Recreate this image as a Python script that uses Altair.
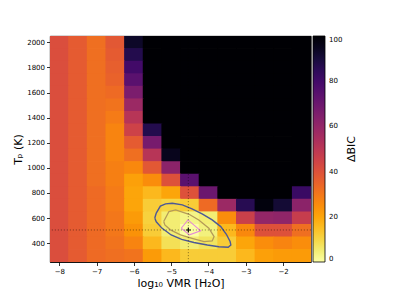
import altair as alt
import pandas as pd

# ---------------- data ----------------
log_vmr = [-8.0, -7.5, -7.0, -6.5, -6.0, -5.5, -5.0, -4.5, -4.0, -3.5, -3.0, -2.5, -2.0, -1.5]
t_p = [2000, 1900, 1800, 1700, 1600, 1500, 1400, 1300, 1200, 1100, 1000, 900, 800, 700, 600, 500, 400, 300]
OFF = 150  # above colour range -> drawn black

# delta BIC per cell, rows top (2000 K) to bottom (300 K), columns as log_vmr
dbic_rows = [
    [41, 37, 32, 38, 93, OFF, OFF, OFF, OFF, OFF, OFF, OFF, OFF, OFF],
    [41, 37, 32, 37, 87, OFF, OFF, OFF, OFF, OFF, OFF, OFF, OFF, OFF],
    [41, 37, 32, 36, 80, OFF, OFF, OFF, OFF, OFF, OFF, OFF, OFF, OFF],
    [41, 37, 32, 35, 74, OFF, OFF, OFF, OFF, OFF, OFF, OFF, OFF, OFF],
    [41, 37, 32, 33, 66, OFF, OFF, OFF, OFF, OFF, OFF, OFF, OFF, OFF],
    [41, 37, 32, 31, 58, OFF, OFF, OFF, OFF, OFF, OFF, OFF, OFF, OFF],
    [41, 37, 32, 29, 51, OFF, OFF, OFF, OFF, OFF, OFF, OFF, OFF, OFF],
    [41, 37, 32, 27, 45, 87, OFF, OFF, OFF, OFF, OFF, OFF, OFF, OFF],
    [41, 37, 32, 27, 37, 67, OFF, OFF, OFF, OFF, OFF, OFF, OFF, OFF],
    [41, 37, 32, 27, 32, 51, 95, OFF, OFF, OFF, OFF, OFF, OFF, OFF],
    [41, 37, 32, 28, 26, 38, 62, OFF, OFF, OFF, OFF, OFF, OFF, OFF],
    [41, 37, 32, 28, 21, 25, 40, 74, OFF, OFF, OFF, OFF, OFF, OFF],
    [41, 37, 33, 29, 20, 16, 20, 40, 70, OFF, OFF, OFF, OFF, 82],
    [41, 37, 33, 29, 20, 12, 10, 12, 33, 58, 86, 98, 91, 62],
    [41, 37, 33, 30, 22, 11, 5, 3, 5, 25, 46, 60, 61, 47],
    [41, 37, 33, 30, 24, 12, 5, 0, 4, 16, 26, 40, 40, 32],
    [41, 37, 33, 31, 27, 16, 8, 5, 7, 12, 20, 25, 27, 25],
    [41, 37, 33, 32, 31, 22, 16, 12, 12, 12, 16, 21, 22, 22],
]

# contour traces (outer, middle, inner)
outer_x = [-5.44, -5.40, -5.29, -5.15, -4.97, -4.70, -4.44, -4.17, -3.90, -3.67, -3.52, -3.42,
           -3.40, -3.47, -3.72, -4.03, -4.39, -4.72, -5.00, -5.25, -5.40, -5.44]
outer_t = [600, 640, 695, 713, 718, 705, 673, 633, 585, 532, 471, 413,
           386, 368, 372, 385, 405, 430, 465, 520, 570, 600]
middle_x = [-5.20, -5.06, -4.88, -4.52, -4.26, -3.99, -3.85, -3.90, -4.12, -4.44, -4.75, -5.02, -5.17, -5.20]
middle_t = [572, 652, 665, 630, 585, 519, 452, 418, 413, 439, 466, 506, 545, 572]
inner_x = [-4.73, -4.55, -4.21, -4.51, -4.73]
inner_t = [519, 585, 498, 466, 519]

best_x = [-4.54]
best_t = [505]

x_ticks = [-8, -7, -6, -5, -4, -3, -2]
y_ticks = [400, 600, 800, 1000, 1200, 1400, 1600, 1800, 2000]
cbar_ticks = [0, 20, 40, 60, 80, 100]
cbar_title = ["ΔBIC"]

# ---------------- build tables ----------------
cells = pd.DataFrame(
    [{"x": x, "t": t, "dbic": dbic_rows[i][j]} for i, t in enumerate(t_p) for j, x in enumerate(log_vmr)]
)

def contour_df(xs, ts):
    return pd.DataFrame({"x": xs, "t": ts, "i": list(range(len(xs)))})

FONT = "DejaVu Sans"
xscale = alt.Scale(domain=[-8.25, -1.25], nice=False, zero=False)
yscale = alt.Scale(domain=[250, 2050], nice=False, zero=False)
cscale = alt.Scale(scheme="inferno", reverse=True, domain=[0, 100], clamp=True)
xaxis = alt.Axis(values=x_ticks, format="d", title="log₁₀ VMR [H₂O]", grid=False, labelOverlap=False)
yaxis = alt.Axis(values=y_ticks, format="d", title="Tₚ (K)", grid=False, labelOverlap=False)


def X(field):
    return alt.X(field, scale=xscale, axis=xaxis)


def Y(field):
    return alt.Y(field, scale=yscale, axis=yaxis)


# cells are drawn a hair wider than their pitch so no seams show between them
heat = alt.Chart(cells).transform_calculate(
    x0="datum.x - 0.262", x1="datum.x + 0.262", t0="datum.t - 53", t1="datum.t + 53"
).mark_rect(clip=True).encode(
    x=X("x0:Q"),
    x2="x1:Q",
    y=Y("t0:Q"),
    y2="t1:Q",
    color=alt.Color("dbic:Q", scale=cscale, legend=alt.Legend(
        type="gradient", direction="vertical",
        title=None, orient="right", offset=2, padding=0, values=cbar_ticks,
        gradientLength=226, gradientThickness=12, gradientStrokeColor="black",
        gradientStrokeWidth=0.8, labelFontSize=7, labelFont=FONT, labelColor="black",
        labelBaseline="middle", labelOffset=4, labelOverlap=False)),
)


def contour_layer(xs, ts, color, width):
    return alt.Chart(contour_df(xs, ts)).mark_line(color=color, strokeWidth=width).encode(
        x=X("x:Q"), y=Y("t:Q"), order="i:Q")


outer = contour_layer(outer_x, outer_t, "#4c5896", 1.4)
middle = contour_layer(middle_x, middle_t, "#b59b58", 1.3)
inner = contour_layer(inner_x, inner_t, "#e48ad6", 1.1)

best = pd.DataFrame({"x": best_x, "t": best_t})
hrule = alt.Chart(best).mark_rule(color="black", opacity=0.4, strokeDash=[1.2, 1.8], strokeWidth=1.0).encode(y=Y("t:Q"))
vrule = alt.Chart(best).mark_rule(color="black", opacity=0.4, strokeDash=[1.2, 1.8], strokeWidth=1.0).encode(x=X("x:Q"))
plus = alt.Chart(best).mark_point(shape="M-1,0L1,0M0,-1L0,1", filled=False, color="black",
                                  strokeWidth=1.1, size=25, opacity=1).encode(x=X("x:Q"), y=Y("t:Q"))

ctitle = alt.Chart(pd.DataFrame({"label": cbar_title})).mark_text(
    angle=270, font=FONT, fontSize=11, color="black", align="center", baseline="middle"
).encode(x=alt.value(302), y=alt.value(113), text="label:N")

chart = alt.layer(heat, outer, middle, inner, hrule, vrule, plus, ctitle).properties(
    width=261, height=226,
    autosize=alt.AutoSizeParams(type="none"),
    padding={"left": 42, "top": 28, "right": 81, "bottom": 30},
).configure_view(stroke="black", strokeWidth=0.8).configure_axis(
    labelFont=FONT, titleFont=FONT, labelFontSize=7, titleFontSize=11,
    titleFontWeight="normal", labelColor="black", titleColor="black",
    domainColor="black", domainWidth=0.8, tickColor="black", tickSize=3.5, tickWidth=0.8,
    labelPadding=2, titlePadding=3,
).configure_legend(gradientLength=226, gradientThickness=12)

chart.save("out.html", embed_options={"renderer": "svg", "actions": False})
